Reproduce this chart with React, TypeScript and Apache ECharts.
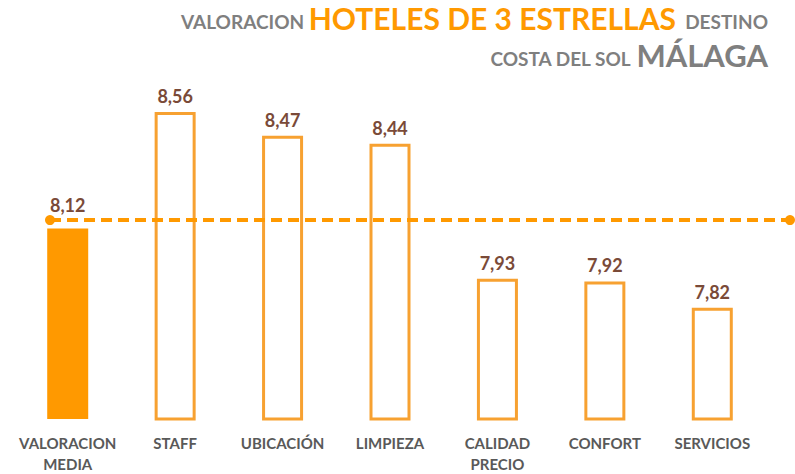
import React, { useEffect, useRef } from "react";
import * as echarts from "echarts";

const categories = [
  "VALORACION\nMEDIA",
  "STAFF",
  "UBICACIÓN",
  "LIMPIEZA",
  "CALIDAD\nPRECIO",
  "CONFORT",
  "SERVICIOS",
];
const scores = [8.12, 8.56, 8.47, 8.44, 7.93, 7.92, 7.82];
const averageValue = 8.12;
const averageLineX = [0, 1];

const ORANGE = "#FF9900";
const OUTLINE = "#F7A131";
const LABEL_BROWN = "#7A4A38";
const GRAY = "#7F7F7F";
const FONT = "Lato, 'Open Sans', sans-serif";

const fmt = (v: number) => v.toFixed(2).replace(".", ",");

export default function App() {
  const ref = useRef<HTMLDivElement>(null);
  useEffect(() => {
    if (!ref.current) return;
    const chart = echarts.init(ref.current, null, { renderer: "svg" });
    const barData = scores.map((v, i) =>
      i === 0
        ? {
            value: v,
            itemStyle: { color: ORANGE, borderWidth: 0 },
            label: { distance: 14 },
          }
        : {
            value: v,
            itemStyle: { color: "#ffffff", borderColor: OUTLINE, borderWidth: 3 },
          }
    );
    const small = { fontSize: 19, fontWeight: "bold", color: GRAY, fontFamily: FONT, lineHeight: 34, verticalAlign: "bottom", padding: [0, 0, 2, 0] };
    chart.setOption({
      animation: false,
      backgroundColor: "#ffffff",
      title: [
        {
          right: 22,
          top: -6,
          text: "{a|VALORACION }{b|HOTELES DE 3 ESTRELLAS}{a|  DESTINO}",
          textStyle: {
            rich: {
              a: small,
              b: { fontSize: 30, fontWeight: "bold", color: ORANGE, fontFamily: FONT, lineHeight: 34, verticalAlign: "bottom" },
            },
          },
        },
        {
          right: 22,
          top: 31,
          text: "{a|COSTA DEL SOL }{b|MÁLAGA}",
          textStyle: {
            rich: {
              a: small,
              b: { fontSize: 31, fontWeight: "bold", color: GRAY, fontFamily: FONT, lineHeight: 34, verticalAlign: "bottom" },
            },
          },
        },
      ],
      grid: [
        { left: 14, right: 29, top: 75, bottom: 53 },
        { left: 50, right: 5, top: 75, bottom: 53 },
      ],
      xAxis: [
        {
          type: "category",
          gridIndex: 0,
          data: categories,
          axisLine: { show: false },
          axisTick: { show: false },
          axisLabel: {
            interval: 0,
            margin: 13,
            color: "#595959",
            fontSize: 15,
            fontWeight: "bold",
            fontFamily: FONT,
            lineHeight: 21,
          },
        },
        { type: "value", gridIndex: 1, min: 0, max: 1, show: false },
      ],
      yAxis: [
        { type: "value", gridIndex: 0, min: 7.4, max: 8.7, show: false },
        { type: "value", gridIndex: 1, min: 7.4, max: 8.64, show: false },
      ],
      series: [
        {
          type: "bar",
          xAxisIndex: 0,
          yAxisIndex: 0,
          data: barData,
          barWidth: 41,
          label: {
            show: true,
            position: "top",
            distance: 7,
            color: LABEL_BROWN,
            fontSize: 18,
            fontWeight: "bold",
            fontFamily: FONT,
            formatter: (p: any) => fmt(p.value),
          },
        },
        {
          type: "line",
          xAxisIndex: 1,
          yAxisIndex: 1,
          clip: false,
          data: averageLineX.map((x) => [x, averageValue]),
          symbol: "circle",
          symbolSize: 10,
          itemStyle: { color: ORANGE },
          lineStyle: {
            color: ORANGE,
            width: 4,
            type: [11, 6],
          },
          z: 5,
        },
      ],
    });
    return () => chart.dispose();
  }, []);
  return (
    <div
      ref={ref}
      style={{ width: 795, height: 474, position: "fixed", left: 0, top: 0 }}
    />
  );
}
